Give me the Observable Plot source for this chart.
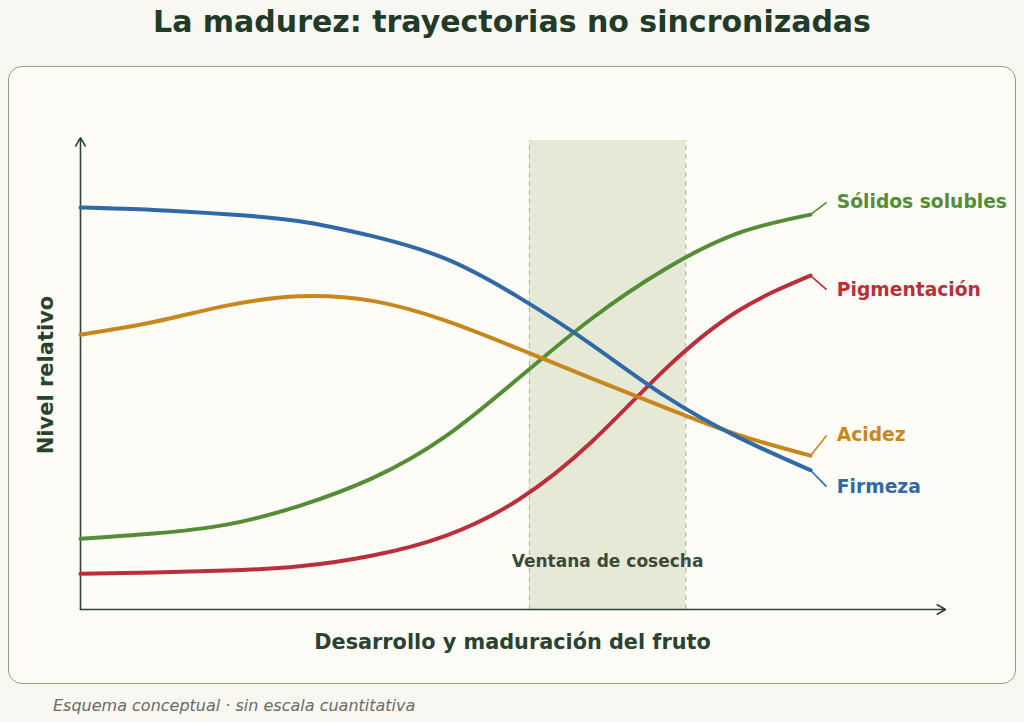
<!DOCTYPE html>
<html>
<head>
<meta charset="utf-8">
<script src="https://cdn.jsdelivr.net/npm/d3@7"></script>
<script src="https://cdn.jsdelivr.net/npm/@observablehq/plot@0.6"></script>
<style>
  html, body { margin: 0; padding: 0; }
  body { width: 1024px; height: 722px; background: #f8f7f2; position: relative; overflow: hidden; font-family: "DejaVu Sans", sans-serif; }
  #title { position: absolute; left: 0; top: 0; width: 1024px; height: 44px; line-height: 44px; text-align: center; font-size: 30px; font-weight: bold; color: #223a28; }
  #panel { position: absolute; left: 8px; top: 66px; width: 1008px; height: 618px; box-sizing: border-box; border: 1.5px solid #8fa07c; border-radius: 14px; background: #fdfcf7; }
  #chart { position: absolute; left: 0; top: 66px; width: 1024px; height: 618px; }
  #caption { position: absolute; left: 53px; top: 696px; line-height: 20px; font-size: 16px; font-style: italic; color: #6b6b63; }
</style>
</head>
<body>
<div id="title">La madurez: trayectorias no sincronizadas</div>
<div id="panel"></div>
<div id="chart"></div>
<div id="caption">Esquema conceptual · sin escala cuantitativa</div>
<script>
// Etapas de desarrollo (eje conceptual 0–1)
const etapas = [0, 0.1, 0.2, 0.3, 0.4, 0.5, 0.6, 0.7, 0.8, 0.9, 1.0];
// Series (nivel relativo)
const firmeza      = [0.857, 0.852, 0.843, 0.828, 0.796, 0.748, 0.666, 0.565, 0.456, 0.368, 0.297];
const acidez       = [0.586, 0.613, 0.648, 0.668, 0.658, 0.616, 0.556, 0.493, 0.431, 0.373, 0.328];
const solidos      = [0.151, 0.162, 0.181, 0.221, 0.280, 0.369, 0.493, 0.620, 0.725, 0.802, 0.842];
const pigmentacion = [0.076, 0.079, 0.083, 0.092, 0.115, 0.157, 0.234, 0.357, 0.511, 0.636, 0.712];

const nombres = ["Sólidos solubles", "Pigmentación", "Acidez", "Firmeza"];
const colores = ["#558d36", "#b92f3b", "#c8861f", "#2f69a6"];
const etiquetaY = [0.868, 0.682, 0.371, 0.262];
const etiquetaDx = [0.022, 0.036]; // leader end, text start (relative to curve end)

// Ventana de cosecha
const ventana = [0.615, 0.829];
const ventanaEtiqueta = "Ventana de cosecha";
const ventanaEtiquetaY = 0.102;

const ejeXFin = 1.185;
const ejeYFin = 1.006;
const ejeXTitulo = "Desarrollo y maduración del fruto";
const ejeYTitulo = "Nivel relativo";

const series = [solidos, pigmentacion, acidez, firmeza];
const puntos = series.flatMap((s, i) => s.map((v, j) => ({x: etapas[j], y: v, serie: nombres[i]})));
const ultimo = etapas[etapas.length - 1];
const etiquetas = nombres.map((n, i) => ({
  serie: n,
  x0: ultimo, y0: series[i][series[i].length - 1],
  x1: ultimo + etiquetaDx[0], y1: etiquetaY[i],
  xt: ultimo + etiquetaDx[1]
}));

const ink = "#2d4633";

const chart = Plot.plot({
  width: 1024,
  height: 618,
  marginLeft: 80,
  marginRight: 214,
  marginTop: 74,
  marginBottom: 75,
  x: {domain: [0, 1], axis: null},
  y: {domain: [0, 1], axis: null},
  color: {domain: nombres, range: colores},
  style: {fontFamily: "DejaVu Sans, sans-serif", background: "transparent", overflow: "visible"},
  marks: [
    Plot.rectY([ventana], {x1: d => d[0], x2: d => d[1], y1: 0, y2: 1, fill: "#e7e9d7"}),
    Plot.ruleX(ventana, {x: d => d, y1: 0, y2: 1, stroke: "#b7baa6", strokeWidth: 1.2, strokeDasharray: "5,4"}),
    Plot.text([ventanaEtiqueta], {x: (ventana[0] + ventana[1]) / 2, y: ventanaEtiquetaY, text: d => d, fontSize: 17, fontWeight: "bold", fill: "#3d4a3a"}),
    Plot.arrow([{x1: 0, y1: 0, x2: 0, y2: ejeYFin}, {x1: 0, y1: 0, x2: ejeXFin, y2: 0}], {x1: "x1", y1: "y1", x2: "x2", y2: "y2", stroke: ink, strokeWidth: 1.6, headLength: 9, headAngle: 60}),
    Plot.line(puntos, {x: "x", y: "y", z: "serie", stroke: "serie", strokeWidth: 4, curve: "natural"}),
    Plot.link(etiquetas, {x1: "x0", y1: "y0", x2: "x1", y2: "y1", stroke: "serie", strokeWidth: 1.6}),
    Plot.text(etiquetas, {x: "xt", y: "y1", text: "serie", fill: "serie", textAnchor: "start", fontSize: 18.7, fontWeight: "bold"}),
    Plot.text([ejeYTitulo], {frameAnchor: "left", textAnchor: "middle", dx: -34, rotate: -90, text: d => d, fontSize: 21, fontWeight: "bold", fill: "#2a4230"}),
    Plot.text([ejeXTitulo], {frameAnchor: "bottom", dx: 67, dy: 39, text: d => d, fontSize: 20.8, fontWeight: "bold", fill: "#2a4230"})
  ]
});
document.getElementById("chart").appendChild(chart);
</script>
</body>
</html>
